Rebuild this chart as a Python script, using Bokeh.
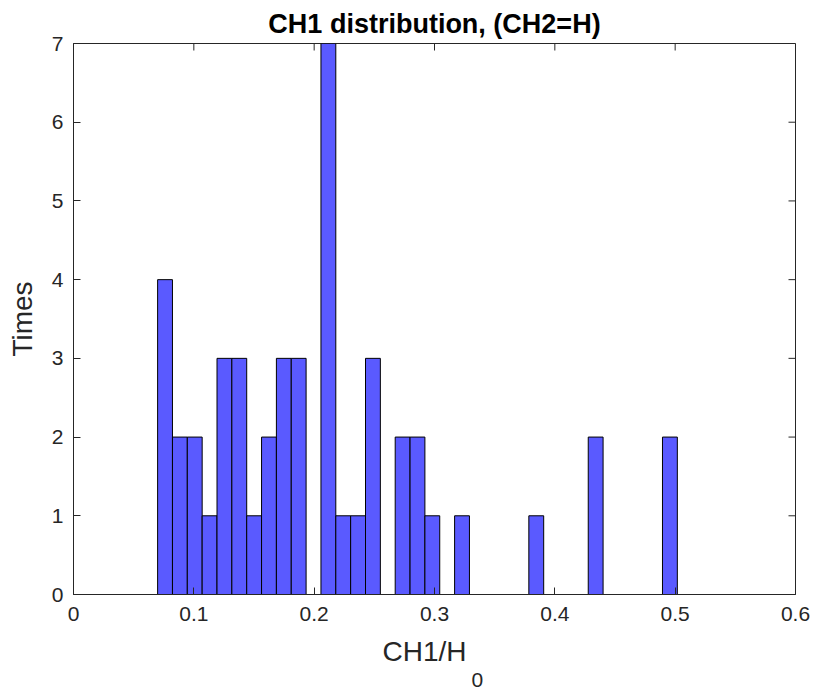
from bokeh.plotting import figure
from bokeh.models import (ColumnDataSource, LinearAxis, FixedTicker,
                          NumeralTickFormatter, Range1d, Title)
from bokeh.embed import file_html
from bokeh.resources import INLINE

# ---- data ----
bin_start = 0.0699
bin_width = 0.01234
counts = [4, 2, 2, 1, 3, 3, 1, 2, 3, 3, 0, 7, 1, 1, 3, 0, 2, 2, 1, 0,
          1, 0, 0, 0, 0, 1, 0, 0, 0, 2, 0, 0, 0, 0, 2]
x_ticks = [0, 0.1, 0.2, 0.3, 0.4, 0.5, 0.6]
y_ticks = [0, 1, 2, 3, 4, 5, 6, 7]
title_text = "CH1 distribution, (CH2=H)"
xlabel_main = "CH1/H"
xlabel_sub = "0"
ylabel_text = "Times"

X0, X1, Y0, Y1 = 0, 0.6, 0, 7
FW, FH = 722, 551

lefts = [bin_start + i * bin_width for i in range(len(counts))]
rights = [l + bin_width for l in lefts]
src = ColumnDataSource(dict(left=lefts, right=rights, top=counts,
                            bottom=[0] * len(counts)))

FONT = "Liberation Sans"
AX = "#262626"
TICK = 7  # px

p = figure(frame_width=FW, frame_height=FH, output_backend="svg",
           toolbar_location=None, x_range=Range1d(X0, X1), y_range=Range1d(Y0, Y1),
           x_axis_type=None, y_axis_type=None,
           min_border_left=73, min_border_right=18, min_border_top=43,
           min_border_bottom=96)
p.outline_line_color = AX
p.outline_line_width = 1
p.background_fill_color = "white"
p.border_fill_color = "white"
p.xgrid.visible = False
p.ygrid.visible = False

p.quad(left="left", right="right", top="top", bottom="bottom", source=src,
       fill_color="#5a5aff", line_color="black", line_width=1)

# inward ticks on top and right edges of the box
dy = TICK * (Y1 - Y0) / FH
dx = TICK * (X1 - X0) / FW
p.segment(x0=x_ticks, y0=[Y1] * len(x_ticks), x1=x_ticks,
          y1=[Y1 - dy] * len(x_ticks), line_color=AX, line_width=1)
p.segment(x0=[X1] * len(y_ticks), y0=y_ticks, x1=[X1 - dx] * len(y_ticks),
          y1=y_ticks, line_color=AX, line_width=1)


def style_axis(ax, ticks, standoff):
    ax.ticker = FixedTicker(ticks=ticks)
    ax.formatter = NumeralTickFormatter(format="0.[0]")
    ax.axis_line_color = AX
    ax.major_tick_line_color = AX
    ax.major_tick_in = TICK
    ax.major_tick_out = 0
    ax.minor_tick_line_color = None
    ax.major_label_text_font = FONT
    ax.major_label_text_font_size = "21px"
    ax.major_label_text_color = AX
    ax.major_label_standoff = standoff
    ax.axis_label_text_font = FONT
    ax.axis_label_text_font_size = "28px"
    ax.axis_label_text_font_style = "normal"
    ax.axis_label_text_color = AX


xb = LinearAxis()
style_axis(xb, x_ticks, 12)
p.add_layout(xb, "below")

yl = LinearAxis(axis_label=ylabel_text)
style_axis(yl, y_ticks, 10)
yl.axis_label_standoff = 11
p.add_layout(yl, "left")

# x label: main text, then its subscript
xlab = Title(text=xlabel_main, text_font=FONT, text_font_size="28px",
             text_font_style="normal", text_color=AX, align="left",
             offset=309, standoff=20)
p.add_layout(xlab, "below")
sub = Title(text=xlabel_sub, text_font=FONT, text_font_size="21px",
            text_font_style="normal", text_color=AX, align="left",
            offset=398, standoff=-21)
p.add_layout(sub, "below")

p.title.text = title_text
p.title.text_font = FONT
p.title.text_font_size = "27px"
p.title.text_font_style = "bold"
p.title.text_color = "black"
p.title.align = "center"
p.title.standoff = 10

open("out.html", "w").write(file_html(p, INLINE))
